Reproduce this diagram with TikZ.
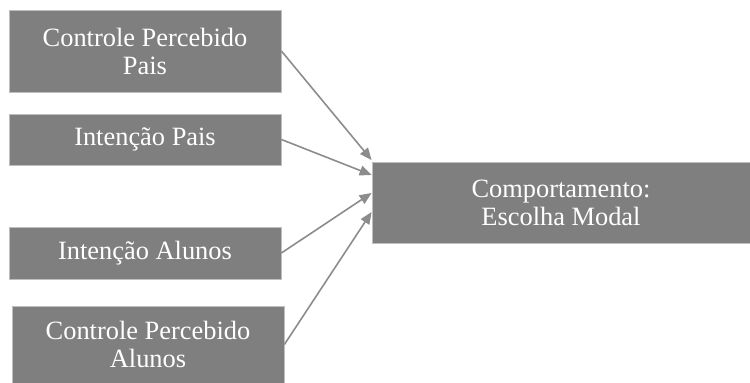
\documentclass[tikz,border=0pt]{standalone}
\usepackage{fontspec}
\setmainfont{Liberation Serif}
\usetikzlibrary{arrows.meta}
\definecolor{boxgray}{HTML}{7F7F7F}
\definecolor{edgegray}{HTML}{BFBFBF}
\definecolor{arrowgray}{HTML}{8C8C8C}
\tikzset{
  fatorbox/.style={rectangle, fill=boxgray, draw=edgegray, line width=0.4pt,
    text=white, align=center, inner sep=0pt, minimum width=136pt,
    font=\fontsize{13.2}{14}\selectfont},
  seta/.style={draw=arrowgray, line width=0.8pt,
    -{Triangle[length=6pt,width=5pt]}, arrowgray}
}
\begin{document}
\begin{tikzpicture}[x=0.5pt, y=-0.5pt]
    \useasboundingbox (0,0) rectangle (750,383);
    % - Fatores
    \node[fatorbox, minimum height=41pt] (cpp) at (145,51){Controle Percebido\\Pais};
    \node[fatorbox, minimum height=25.5pt] (ip) at (145,139.5){Intenção Pais};
    \node[fatorbox, minimum height=26pt] (ia) at (145,253){Intenção Alunos};
    \node[fatorbox, minimum height=38.5pt] (cpa) at (148,344.5){Controle Percebido\\Alunos};
    % - Comportamento
    \node[fatorbox, minimum width=189pt, minimum height=40.5pt] (comp) at (561,202.5){Comportamento:\\ Escolha Modal};
    % - Pontas das setas
    \coordinate (t1) at ([yshift=21.25pt]comp.west);
    \coordinate (t2) at ([yshift=13.75pt]comp.west);
    \coordinate (t3) at ([yshift=4.75pt]comp.west);
    \coordinate (t4) at ([yshift=-4.75pt]comp.west);
    % - Setas
    \draw[seta] (cpp.east) -- (t1);
    \draw[seta] (ip.east) -- (t2);
    \draw[seta] (ia.east) -- (t3);
    \draw[seta] (cpa.east) -- (t4);
\end{tikzpicture}
\end{document}
